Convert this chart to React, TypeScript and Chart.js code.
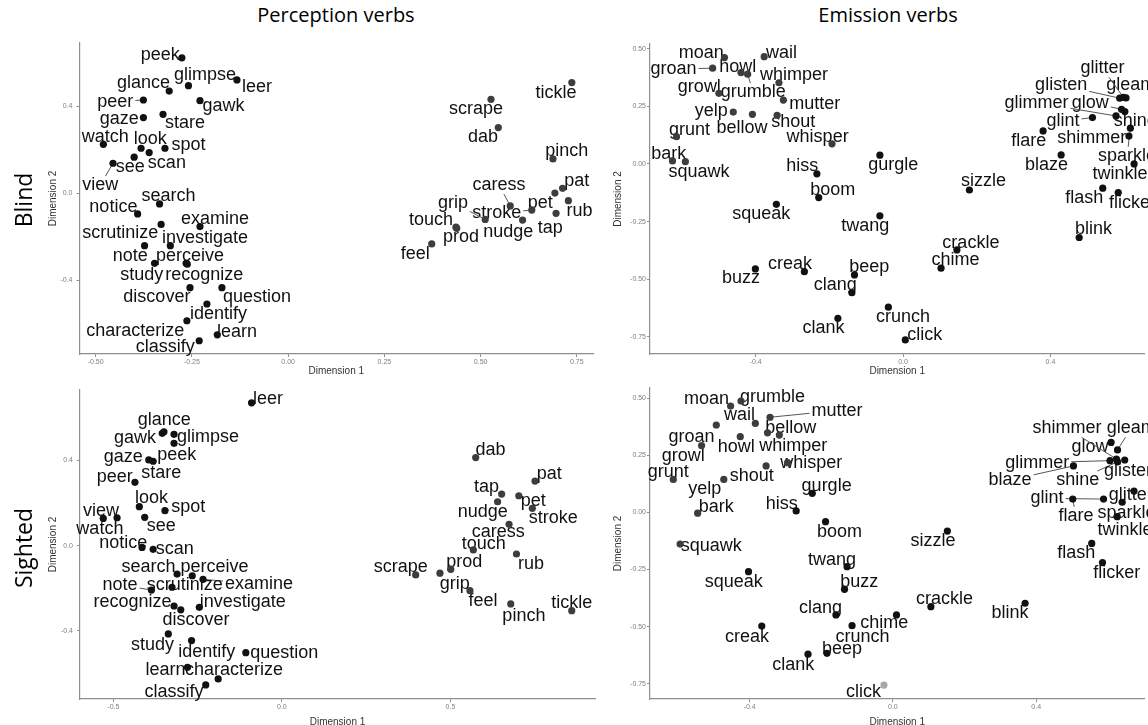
import React, { useEffect, useRef } from 'react';
import { Chart, registerables } from 'chart.js';
Chart.register(...registerables);

// ---------------- DATA ----------------
// Blind · Perception verbs
const bpWords = ['peek','glimpse','leer','glance','peer','gawk','gaze','stare','watch','look','spot','scan','see','view','search','notice','examine','scrutinize','investigate','note','perceive','study','recognize','discover','question','identify','characterize','learn','classify','tickle','scrape','dab','pinch','pat','pet','rub','tap','nudge','caress','stroke','grip','touch','prod','feel'];
const bpX = [-0.276,-0.259,-0.133,-0.309,-0.376,-0.229,-0.376,-0.325,-0.480,-0.382,-0.320,-0.361,-0.400,-0.455,-0.334,-0.391,-0.229,-0.330,-0.306,-0.373,-0.265,-0.347,-0.262,-0.255,-0.172,-0.211,-0.263,-0.184,-0.231,0.737,0.527,0.546,0.688,0.713,0.693,0.728,0.696,0.609,0.577,0.633,0.512,0.436,0.438,0.373];
const bpY = [0.623,0.495,0.521,0.470,0.429,0.426,0.348,0.363,0.225,0.207,0.207,0.187,0.166,0.138,-0.049,-0.095,-0.153,-0.143,-0.241,-0.241,-0.322,-0.322,-0.326,-0.434,-0.434,-0.509,-0.586,-0.651,-0.678,0.509,0.432,0.302,0.158,0.023,0.001,-0.034,-0.092,-0.123,-0.058,-0.077,-0.120,-0.156,-0.161,-0.233];
const bpLabelX = [-0.332,-0.216,-0.081,-0.376,-0.449,-0.168,-0.439,-0.268,-0.475,-0.358,-0.259,-0.315,-0.410,-0.488,-0.311,-0.454,-0.190,-0.436,-0.216,-0.410,-0.255,-0.380,-0.218,-0.341,-0.081,-0.181,-0.397,-0.133,-0.319,0.696,0.488,0.506,0.724,0.750,0.655,0.757,0.681,0.572,0.548,0.542,0.428,0.371,0.449,0.330];
const bpLabelY = [0.636,0.544,0.487,0.506,0.421,0.401,0.340,0.322,0.260,0.248,0.222,0.141,0.122,0.038,-0.012,-0.064,-0.120,-0.184,-0.207,-0.288,-0.288,-0.376,-0.376,-0.475,-0.475,-0.556,-0.633,-0.636,-0.705,0.463,0.386,0.260,0.196,0.057,-0.046,-0.081,-0.161,-0.177,0.038,-0.092,-0.043,-0.123,-0.202,-0.279];
const bpGroup = [...Array(29).fill('sight'), ...Array(15).fill('touch')];
const bpLeaders = ['glimpse','peer','view','caress','stroke','grip'];

// Sighted · Perception verbs
const spWords = ['leer','glance','gawk','glimpse','peek','gaze','stare','peer','look','spot','view','watch','see','notice','scan','search','perceive','examine','note','scrutinize','recognize','discover','investigate','study','identify','question','learn','characterize','classify','dab','pat','tap','pet','nudge','stroke','caress','touch','rub','prod','grip','scrape','feel','pinch','tickle'];
const spX = [-0.090,-0.350,-0.355,-0.320,-0.320,-0.395,-0.382,-0.436,-0.423,-0.347,-0.530,-0.489,-0.407,-0.415,-0.382,-0.311,-0.266,-0.234,-0.387,-0.326,-0.320,-0.300,-0.245,-0.337,-0.268,-0.107,-0.280,-0.189,-0.226,0.575,0.751,0.652,0.703,0.640,0.743,0.674,0.568,0.696,0.501,0.469,0.397,0.558,0.679,0.860];
const spY = [0.670,0.534,0.527,0.522,0.480,0.402,0.396,0.297,0.183,0.164,0.128,0.131,0.133,-0.008,-0.017,-0.133,-0.141,-0.158,-0.208,-0.195,-0.283,-0.301,-0.289,-0.414,-0.445,-0.502,-0.570,-0.625,-0.653,0.413,0.303,0.242,0.234,0.206,0.175,0.100,-0.020,-0.039,-0.111,-0.129,-0.137,-0.211,-0.273,-0.305];
const spLabelX = [-0.041,-0.349,-0.436,-0.219,-0.312,-0.471,-0.358,-0.496,-0.387,-0.278,-0.537,-0.540,-0.358,-0.471,-0.318,-0.396,-0.200,-0.068,-0.480,-0.288,-0.443,-0.255,-0.116,-0.384,-0.223,0.007,-0.345,-0.142,-0.320,0.619,0.793,0.607,0.746,0.596,0.805,0.642,0.599,0.739,0.541,0.513,0.353,0.597,0.718,0.860];
const spLabelY = [0.686,0.589,0.504,0.508,0.425,0.417,0.342,0.323,0.222,0.183,0.164,0.078,0.094,0.014,-0.015,-0.098,-0.098,-0.180,-0.184,-0.184,-0.262,-0.348,-0.262,-0.466,-0.497,-0.502,-0.585,-0.583,-0.687,0.449,0.335,0.277,0.211,0.157,0.128,0.063,0.008,-0.087,-0.078,-0.180,-0.101,-0.258,-0.330,-0.267];
const spGroup = [...Array(29).fill('sight'), ...Array(15).fill('touch')];
const spLeaders = ['note','examine','spot'];

// Blind · Emission verbs
const beWords = ['moan','wail','groan','howl','grumble','whimper','growl','mutter','yelp','bellow','shout','grunt','whisper','bark','squawk','hiss','gurgle','boom','squeak','twang','buzz','creak','beep','clang','clank','crunch','click','chime','crackle','sizzle','blink','flash','flicker','blaze','twinkle','sparkle','shimmer','flare','glint','shine','glow','glimmer','glisten','gleam','glitter'];
const beX = [-0.485,-0.377,-0.517,-0.440,-0.422,-0.337,-0.500,-0.325,-0.461,-0.409,-0.342,-0.615,-0.193,-0.626,-0.591,-0.234,-0.063,-0.229,-0.344,-0.063,-0.401,-0.268,-0.132,-0.139,-0.177,-0.040,0.006,0.103,0.146,0.180,0.478,0.542,0.584,0.429,0.627,0.617,0.613,0.380,0.514,0.602,0.593,0.578,0.588,0.605,0.598];
const beY = [0.461,0.465,0.415,0.396,0.389,0.352,0.306,0.277,0.225,0.215,0.211,0.118,0.087,0.013,0.010,-0.043,0.038,-0.146,-0.175,-0.225,-0.455,-0.467,-0.481,-0.558,-0.669,-0.621,-0.763,-0.452,-0.373,-0.113,-0.319,-0.105,-0.124,0.039,0.000,0.155,0.121,0.143,0.201,0.227,0.237,0.208,0.285,0.286,0.289];
const beLabelX = [-0.548,-0.330,-0.623,-0.449,-0.407,-0.296,-0.553,-0.240,-0.521,-0.437,-0.298,-0.580,-0.232,-0.636,-0.554,-0.274,-0.027,-0.191,-0.385,-0.103,-0.440,-0.307,-0.092,-0.184,-0.216,0.000,0.059,0.142,0.184,0.218,0.517,0.492,0.623,0.389,0.589,0.608,0.512,0.341,0.434,0.630,0.508,0.362,0.429,0.618,0.541];
const beLabelY = [0.482,0.482,0.412,0.422,0.311,0.386,0.335,0.260,0.230,0.155,0.182,0.147,0.116,0.043,-0.035,-0.009,-0.004,-0.113,-0.218,-0.269,-0.495,-0.435,-0.448,-0.525,-0.712,-0.665,-0.742,-0.416,-0.342,-0.076,-0.283,-0.149,-0.168,-0.004,-0.043,0.035,0.111,0.100,0.185,0.188,0.266,0.266,0.342,0.342,0.415];
const beGroup = [...Array(15).fill('vocal'), ...Array(15).fill('sound'), ...Array(15).fill('light')];
const beLeaders = ['groan','grumble','mutter','glisten','glimmer','glow','glint','glitter','sparkle'];

// Sighted · Emission verbs
const seWords = ['moan','grumble','wail','mutter','bellow','groan','howl','whimper','growl','grunt','shout','whisper','yelp','bark','squawk','gurgle','hiss','boom','twang','squeak','buzz','clang','crunch','chime','creak','beep','clank','click','sizzle','crackle','blink','flash','flicker','glint','flare','sparkle','twinkle','glitter','shine','glimmer','blaze','glow','gleam','shimmer','glisten'];
const seX = [-0.453,-0.424,-0.384,-0.343,-0.317,-0.493,-0.426,-0.350,-0.534,-0.613,-0.354,-0.294,-0.472,-0.545,-0.594,-0.225,-0.270,-0.188,-0.128,-0.403,-0.135,-0.159,-0.114,0.010,-0.366,-0.184,-0.237,-0.025,0.152,0.106,0.369,0.555,0.585,0.588,0.502,0.640,0.626,0.673,0.627,0.606,0.504,0.609,0.627,0.624,0.647];
const seY = [0.465,0.487,0.389,0.416,0.338,0.382,0.331,0.348,0.292,0.144,0.203,0.217,0.144,-0.004,-0.139,0.083,0.006,-0.041,-0.238,-0.260,-0.337,-0.449,-0.496,-0.449,-0.498,-0.617,-0.621,-0.756,-0.082,-0.413,-0.398,-0.136,-0.220,0.058,0.058,0.044,-0.019,0.093,0.221,0.226,0.203,0.306,0.273,0.233,0.229];
const seLabelX = [-0.520,-0.336,-0.428,-0.156,-0.285,-0.562,-0.437,-0.278,-0.585,-0.627,-0.394,-0.228,-0.525,-0.493,-0.507,-0.185,-0.310,-0.149,-0.170,-0.444,-0.094,-0.202,-0.085,-0.024,-0.407,-0.142,-0.278,-0.082,0.112,0.144,0.327,0.512,0.625,0.430,0.511,0.652,0.648,0.664,0.516,0.403,0.327,0.550,0.665,0.486,0.662];
const seLabelY = [0.494,0.506,0.426,0.445,0.368,0.331,0.287,0.290,0.246,0.178,0.159,0.214,0.101,0.025,-0.147,0.116,0.036,-0.085,-0.209,-0.304,-0.304,-0.418,-0.544,-0.486,-0.544,-0.600,-0.668,-0.785,-0.126,-0.379,-0.442,-0.177,-0.264,0.061,-0.015,-0.002,-0.077,0.076,0.141,0.217,0.141,0.287,0.368,0.368,0.182];
const seGroup = [...Array(15).fill('vocal'), ...Array(12).fill('sound'), 'faint', 'sound', 'sound', ...Array(15).fill('light')];
const seLeaders = ['mutter','glimmer','blaze','shine','glint','shimmer','gleam','flare'];

// Axis ticks
const bpXTicks = [-0.5, -0.25, 0, 0.25, 0.5, 0.75];
const bpXTickLabels = ['-0.50', '-0.25', '0.00', '0.25', '0.50', '0.75'];
const bpYTicks = [-0.4, 0, 0.4];
const bpYTickLabels = ['-0.4', '0.0', '0.4'];
const spXTicks = [-0.5, 0, 0.5];
const spXTickLabels = ['-0.5', '0.0', '0.5'];
const spYTicks = [-0.4, 0, 0.4];
const spYTickLabels = ['-0.4', '0.0', '0.4'];
const eXTicks = [-0.4, 0, 0.4];
const eXTickLabels = ['-0.4', '0.0', '0.4'];
const eYTicks = [-0.75, -0.5, -0.25, 0, 0.25, 0.5];
const eYTickLabels = ['-0.75', '-0.50', '-0.25', '0.00', '0.25', '0.50'];

// ---------------- STYLE ----------------
const groupColor: Record<string, string> = {
  sight: '#111111', touch: '#3d3d3d', vocal: '#3d3d3d', sound: '#111111', light: '#111111', faint: '#a8a8a8',
};
const LABEL_FONT = '18px "Liberation Sans", Arial, sans-serif';
const AXIS_COLOR = '#8f8f8f';

type Spec = {
  words: string[]; xs: number[]; ys: number[]; lx: number[]; ly: number[]; groups: string[]; leaders: string[];
  xTicks: number[]; xTickLabels: string[]; yTicks: number[]; yTickLabels: string[];
  xMin: number; xMax: number; yMin: number; yMax: number;
  left: number; top: number; width: number; height: number;
  pad: { left: number; top: number; right: number; bottom: number };
  yW: number; xH: number; yTitlePad: number; xTitlePad: number; yTickPad: number;
};

function makeLabelPlugin(s: Spec) {
  return {
    id: 'wordLabels',
    beforeDatasetsDraw(chart: any) {
      const ctx = chart.ctx as CanvasRenderingContext2D;
      const xs = chart.scales.x, ys = chart.scales.y;
      ctx.save();
      ctx.font = LABEL_FONT;
      ctx.textAlign = 'center';
      ctx.textBaseline = 'middle';
      s.words.forEach((w, i) => {
        const px = xs.getPixelForValue(s.xs[i]);
        const py = ys.getPixelForValue(s.ys[i]);
        const lx = xs.getPixelForValue(s.lx[i]);
        const ly = ys.getPixelForValue(s.ly[i]);
        if (s.leaders.includes(w)) {
          const hw = ctx.measureText(w).width / 2 + 2;
          const hh = 9;
          const dx = px - lx, dy = py - ly;
          const t = Math.min(hw / Math.max(Math.abs(dx), 1e-6), hh / Math.max(Math.abs(dy), 1e-6));
          if (t < 1) {
            ctx.strokeStyle = '#555';
            ctx.lineWidth = 1;
            ctx.beginPath();
            ctx.moveTo(px, py);
            ctx.lineTo(lx + dx * t, ly + dy * t);
            ctx.stroke();
          }
        }
        ctx.fillStyle = '#111';
        ctx.fillText(w, lx, ly);
      });
      ctx.restore();
    },
  };
}

function Panel({ s }: { s: Spec }) {
  const ref = useRef<HTMLCanvasElement>(null);
  useEffect(() => {
    if (!ref.current) return;
    const tickFont = { size: 7, family: '"Liberation Sans", Arial, sans-serif' };
    const titleFont = { size: 10, family: '"Liberation Sans", Arial, sans-serif' };
    const chart = new Chart(ref.current, {
      type: 'scatter',
      data: {
        datasets: [{
          data: s.xs.map((x, i) => ({ x, y: s.ys[i] })),
          pointRadius: 3.6,
          pointHoverRadius: 3.6,
          pointBackgroundColor: s.groups.map((g) => groupColor[g]),
          pointBorderWidth: 0,
          pointBorderColor: 'rgba(0,0,0,0)',
        }],
      },
      options: {
        responsive: false,
        animation: false,
        devicePixelRatio: 1,
        events: [],
        layout: { padding: s.pad },
        plugins: { legend: { display: false }, tooltip: { enabled: false } },
        scales: {
          x: {
            type: 'linear', min: s.xMin, max: s.xMax,
            afterFit: (sc: any) => { sc.height = s.xH; },
            afterBuildTicks: (sc: any) => { sc.ticks = s.xTicks.map((v) => ({ value: v })); },
            ticks: {
              autoSkip: false, maxRotation: 0, padding: 1, color: '#808080', font: tickFont,
              callback: (_v: any, i: number) => s.xTickLabels[i],
            },
            grid: { display: true, drawOnChartArea: false, drawTicks: true, tickLength: 3, color: AXIS_COLOR },
            border: { display: true, color: AXIS_COLOR, width: 1.2 },
            title: { display: true, text: 'Dimension 1', color: '#333', font: titleFont, padding: { top: 0, bottom: s.xTitlePad } },
          },
          y: {
            type: 'linear', min: s.yMin, max: s.yMax,
            afterFit: (sc: any) => { sc.width = s.yW; },
            afterBuildTicks: (sc: any) => { sc.ticks = s.yTicks.map((v) => ({ value: v })); },
            ticks: {
              autoSkip: false, padding: s.yTickPad, color: '#808080', font: tickFont,
              callback: (_v: any, i: number) => s.yTickLabels[i],
            },
            grid: { display: true, drawOnChartArea: false, drawTicks: true, tickLength: 3, color: AXIS_COLOR },
            border: { display: true, color: AXIS_COLOR, width: 1.2 },
            title: { display: true, text: 'Dimension 2', color: '#333', font: titleFont, padding: { top: s.yTitlePad, bottom: 0 } },
          },
        },
      } as any,
      plugins: [makeLabelPlugin(s)],
    });
    return () => chart.destroy();
  }, []);
  return (
    <canvas
      ref={ref}
      width={s.width}
      height={s.height}
      style={{ position: 'absolute', left: s.left, top: s.top, width: s.width, height: s.height }}
    />
  );
}

const panels: Spec[] = [
  {
    words: bpWords, xs: bpX, ys: bpY, lx: bpLabelX, ly: bpLabelY, groups: bpGroup, leaders: bpLeaders,
    xTicks: bpXTicks, xTickLabels: bpXTickLabels, yTicks: bpYTicks, yTickLabels: bpYTickLabels,
    xMin: -0.542, xMax: 0.792, yMin: -0.739, yMax: 0.691,
    left: 0, top: 30, width: 600, height: 350,
    pad: { left: 0, top: 13, right: 7, bottom: 0 }, yW: 79.5, xH: 26, yTitlePad: 47, xTitlePad: 3, yTickPad: 4,
  },
  {
    words: beWords, xs: beX, ys: beY, lx: beLabelX, ly: beLabelY, groups: beGroup, leaders: beLeaders,
    xTicks: eXTicks, xTickLabels: eXTickLabels, yTicks: eYTicks, yTickLabels: eYTickLabels,
    xMin: -0.687, xMax: 0.655, yMin: -0.824, yMax: 0.520,
    left: 600, top: 30, width: 548, height: 350,
    pad: { left: 0, top: 14, right: 0, bottom: 0 }, yW: 50, xH: 26, yTitlePad: 12, xTitlePad: 3, yTickPad: 1,
  },
  {
    words: spWords, xs: spX, ys: spY, lx: spLabelX, ly: spLabelY, groups: spGroup, leaders: spLeaders,
    xTicks: spXTicks, xTickLabels: spXTickLabels, yTicks: spYTicks, yTickLabels: spYTickLabels,
    xMin: -0.599, xMax: 0.929, yMin: -0.719, yMax: 0.730,
    left: 0, top: 380, width: 600, height: 355,
    pad: { left: 0, top: 10, right: 5, bottom: 0 }, yW: 80, xH: 36, yTitlePad: 47, xTitlePad: 7, yTickPad: 4,
  },
  {
    words: seWords, xs: seX, ys: seY, lx: seLabelX, ly: seLabelY, groups: seGroup, leaders: seLeaders,
    xTicks: eXTicks, xTickLabels: eXTickLabels, yTicks: eYTicks, yTickLabels: eYTickLabels,
    xMin: -0.678, xMax: 0.702, yMin: -0.817, yMax: 0.544,
    left: 600, top: 380, width: 548, height: 355,
    pad: { left: 0, top: 8, right: 0, bottom: 0 }, yW: 50, xH: 36, yTitlePad: 12, xTitlePad: 7, yTickPad: 1,
  },
];

const headStyle: React.CSSProperties = {
  position: 'absolute', transform: 'translate(-50%, -50%)', font: '20px "Open Sans", sans-serif',
  whiteSpace: 'nowrap', lineHeight: '24px', color: '#000',
};
const rowStyle: React.CSSProperties = {
  position: 'absolute', transform: 'translate(-50%, -50%) rotate(-90deg)', font: '23px "Open Sans", sans-serif',
  whiteSpace: 'nowrap', lineHeight: '26px', color: '#000',
};

export default function App() {
  return (
    <div style={{ position: 'fixed', left: 0, top: 0, width: 1148, height: 725, overflow: 'hidden', background: '#fff' }}>
      {panels.map((p, i) => <Panel key={i} s={p} />)}
      <div style={{ ...headStyle, left: 336, top: 15 }}>Perception verbs</div>
      <div style={{ ...headStyle, left: 888, top: 15 }}>Emission verbs</div>
      <div style={{ ...rowStyle, left: 23, top: 200 }}>Blind</div>
      <div style={{ ...rowStyle, left: 23, top: 548 }}>Sighted</div>
    </div>
  );
}
